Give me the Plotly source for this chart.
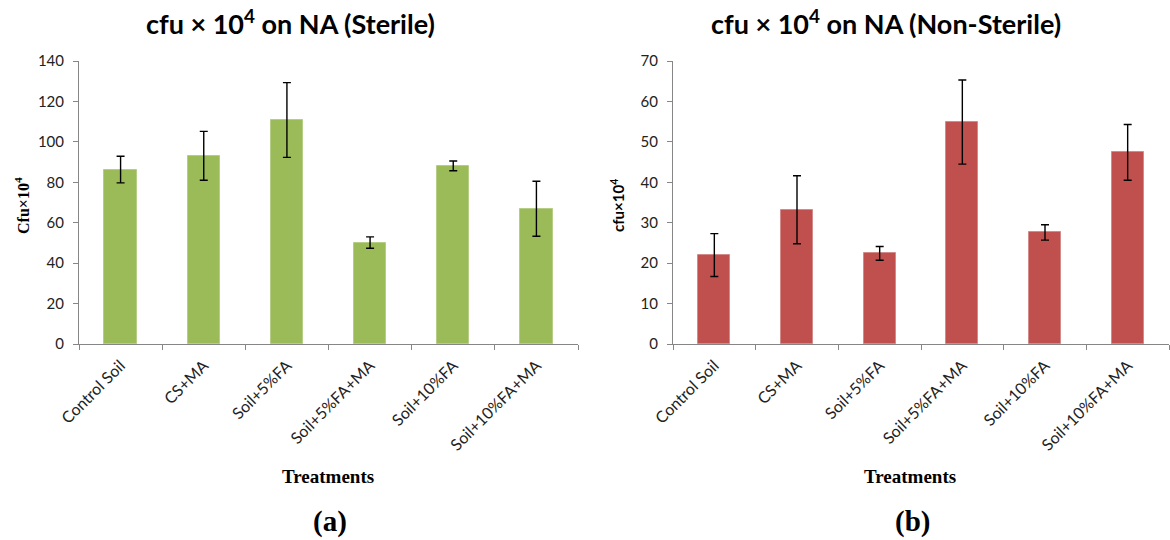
import plotly.graph_objects as go

# Treatments on the x axis (shared by both panels)
treatments = ["Control Soil", "CS+MA", "Soil+5%FA", "Soil+5%FA+MA", "Soil+10%FA", "Soil+10%FA+MA"]

# Panel (a): sterile soil, cfu x 10^4 on NA
sterile_mean = [86.3, 93.1, 110.8, 50.2, 88.1, 66.9]
sterile_err = [6.6, 12.1, 18.5, 2.8, 2.4, 13.6]

# Panel (b): non-sterile soil, cfu x 10^4 on NA
nonsterile_mean = [22.0, 33.2, 22.4, 54.9, 27.6, 47.4]
nonsterile_err = [5.3, 8.4, 1.7, 10.4, 1.9, 6.9]

W, H = 1170, 540
GREEN = "#9BBB59"
RED = "#C0504D"
AXIS_GREY = "#868686"
SANS = "Lato, Carlito, Calibri, sans-serif"
SERIF = "Liberation Serif, Times New Roman, serif"

fig = go.Figure()

fig.add_trace(go.Bar(
    x=treatments, y=sterile_mean, width=0.39,
    marker=dict(color=GREEN, line=dict(color="#B5CD85", width=1)),
    error_y=dict(type="data", array=sterile_err, color="black", thickness=1.4, width=4),
    xaxis="x", yaxis="y", showlegend=False,
))
fig.add_trace(go.Bar(
    x=treatments, y=nonsterile_mean, width=0.39,
    marker=dict(color=RED, line=dict(color="#D48A88", width=1)),
    error_y=dict(type="data", array=nonsterile_err, color="black", thickness=1.4, width=4),
    xaxis="x2", yaxis="y2", showlegend=False,
))

y_top = 1 - 61 / H
y_bot = 1 - 344 / H

xcommon = dict(
    showline=True, linecolor=AXIS_GREY, linewidth=1, automargin=False,
    ticks="outside", tickson="boundaries", ticklen=5, tickcolor=AXIS_GREY,
    ticklabelstandoff=5,
    tickangle=-45, tickfont=dict(family=SANS, size=16, color="#222"),
    showgrid=False, zeroline=False, fixedrange=True,
)
ycommon = dict(
    showline=True, linecolor=AXIS_GREY, linewidth=1, automargin=False,
    ticks="outside", ticklen=5, tickcolor=AXIS_GREY, ticklabelstandoff=6,
    tickfont=dict(family=SANS, size=15, color="#222"),
    showgrid=False, zeroline=False, fixedrange=True,
)

fig.update_layout(
    template="none",
    width=W, height=H,
    margin=dict(l=0, r=0, t=0, b=0, autoexpand=False),
    paper_bgcolor="white", plot_bgcolor="white",
    bargap=0.0,
    xaxis=dict(domain=[79 / W, 578 / W], anchor="y", **xcommon),
    yaxis=dict(domain=[y_bot, y_top], anchor="x", range=[0, 140], dtick=20, **ycommon),
    xaxis2=dict(domain=[673 / W, 1169 / W], anchor="y2", **xcommon),
    yaxis2=dict(domain=[y_bot, y_top], anchor="x2", range=[0, 70], dtick=10, **ycommon),
)

def text(x, y, s, font, angle=0, xanchor="center"):
    fig.add_annotation(
        x=x / W, y=1 - y / H, xref="paper", yref="paper",
        text=s, showarrow=False, textangle=angle, font=font,
        xanchor=xanchor, yanchor="middle",
    )

title_font = dict(family=SANS, size=27, color="black")
text(290, 22, "<b>cfu × 10<sup>4</sup> on NA (Sterile)</b>", title_font)
text(886, 22, "<b>cfu × 10<sup>4</sup> on NA (Non-Sterile)</b>", title_font)

text(22, 206, "<b>Cfu×10<sup>4</sup></b>", dict(family=SERIF, size=16, color="black"), angle=-90)
text(617, 206, "<b>cfu×10<sup>4</sup></b>", dict(family=SANS, size=15, color="black"), angle=-90)

text(328, 476, "<b>Treatments</b>", dict(family=SERIF, size=19, color="black"))
text(910, 476, "<b>Treatments</b>", dict(family=SERIF, size=19, color="black"))

text(330, 521, "<b>(a)</b>", dict(family=SERIF, size=29, color="black"))
text(912, 521, "<b>(b)</b>", dict(family=SERIF, size=29, color="black"))

fig.write_html("out.html")
